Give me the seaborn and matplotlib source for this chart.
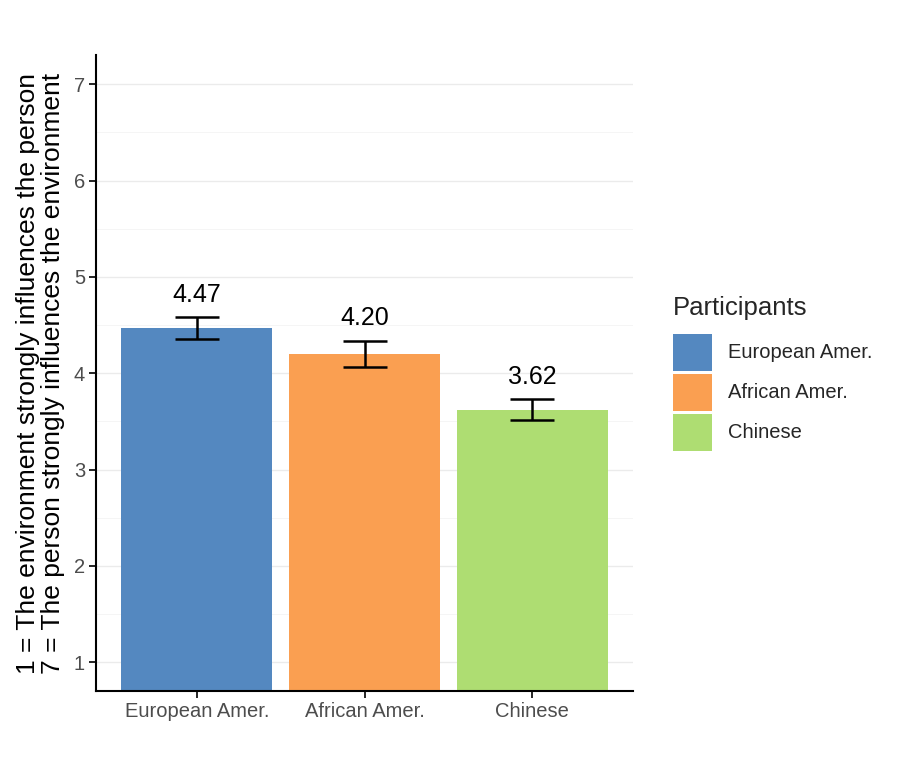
import matplotlib
matplotlib.use("Agg")
import matplotlib.pyplot as plt
import seaborn as sns
import pandas as pd
from matplotlib.patches import Patch
from matplotlib.ticker import MultipleLocator

# Data
participants = ["European Amer.", "African Amer.", "Chinese"]
means = [4.47, 4.20, 3.62]
se = [0.11, 0.135, 0.11]
colors = ["#5488C0", "#FA9F51", "#AEDD72"]

df = pd.DataFrame({"Participants": participants, "mean": means, "se": se})

sns.set_theme(style="white")
plt.rcParams["font.family"] = ["Liberation Sans", "DejaVu Sans"]

fig = plt.figure(figsize=(9.07, 7.68), dpi=100)
ax = fig.add_axes([0.106, 0.100, 0.592, 0.828])

sns.barplot(data=df, x="Participants", y="mean", hue="Participants",
            palette=colors, width=0.9, dodge=False, legend=False,
            saturation=1, linewidth=0, ax=ax, zorder=2)
ax.errorbar(range(len(means)), means, yerr=se, fmt="none", ecolor="black",
            elinewidth=1.8, capsize=16, capthick=1.8, zorder=3)
for i, (m, s) in enumerate(zip(means, se)):
    ax.text(i, m + s + 0.11, f"{m:.2f}", ha="center", va="bottom",
            fontsize=18, color="black", zorder=4)

ax.set_ylim(0.7, 7.3)
ax.set_xlim(-0.6, 2.6)
ax.yaxis.set_major_locator(MultipleLocator(1))
ax.yaxis.set_minor_locator(MultipleLocator(0.5))
ax.grid(which="major", axis="y", color="#EBEBEB", linewidth=1.0, zorder=0)
ax.grid(which="minor", axis="y", color="#F5F5F5", linewidth=0.7, zorder=0)
ax.set_axisbelow(True)

for side in ["top", "right"]:
    ax.spines[side].set_visible(False)
for side in ["left", "bottom"]:
    ax.spines[side].set_color("black")
    ax.spines[side].set_linewidth(1.5)
ax.tick_params(axis="both", which="major", length=5, width=1.2, color="black",
               labelsize=14.5, labelcolor="#4D4D4D", left=True, bottom=True, pad=3)
ax.tick_params(axis="y", which="minor", length=0)

ax.set_xlabel("")
ax.set_ylabel("1 = The environment strongly influences the person\n"
              "7 = The person strongly influences the environment",
              fontsize=19, color="black", labelpad=6, linespacing=1.05)

handles = [Patch(facecolor=c, edgecolor="none") for c in colors]
leg = ax.legend(handles, participants, title="Participants", loc="center left",
                bbox_to_anchor=(1.06, 0.5), frameon=False, fontsize=14.5,
                title_fontsize=18.5, handlelength=1.9, handleheight=2.45,
                handletextpad=0.8, labelspacing=0.15, borderaxespad=0)
leg._legend_box.align = "left"
leg._legend_box.sep = 10

fig.savefig("out.png", dpi=100, facecolor="white")
